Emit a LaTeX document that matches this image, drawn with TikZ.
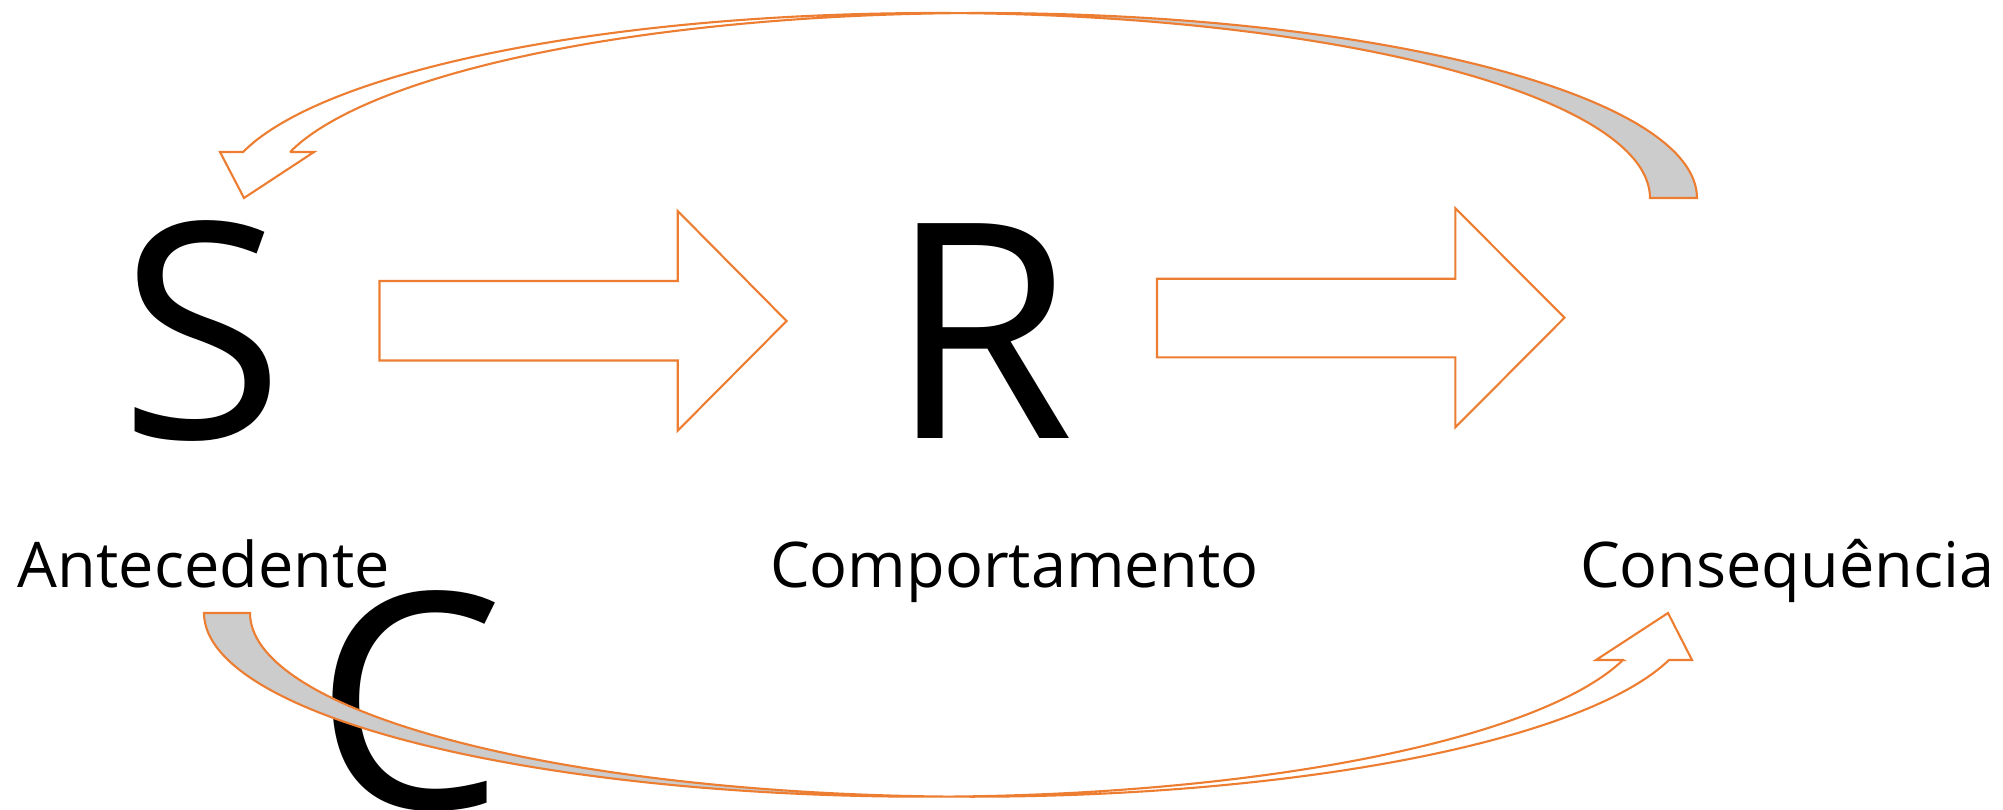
\documentclass[tikz,border=0pt]{standalone}
\usepackage{fontspec}
\setmainfont{Open Sans}
\definecolor{orng}{HTML}{ED7D31}
\definecolor{bandgray}{HTML}{CCCCCC}
\begin{document}
\begin{tikzpicture}[x=0.5pt,y=-0.5pt,
  outl/.style={draw=orng, line width=1.05pt, line join=miter},
  backband/.style={outl, fill=bandgray},
  frontband/.style={outl, fill=white},
  bigletter/.style={inner sep=0pt, outer sep=0pt, anchor=base west, font=\fontsize{150.5pt}{150.5pt}\selectfont},
  lbl/.style={inner sep=0pt, outer sep=0pt, anchor=base west, font=\fontsize{31.5pt}{31.5pt}\selectfont}]
\useasboundingbox (0,0) rectangle (2003,809);

% big letters
\node[bigletter] (S) at (119,438.5) {S};
\node[bigletter] (R) at (888.5,438.5) {R};
\node[bigletter] (C) at (314,808) {C};

% labels
\node[lbl] (lA) at (18,587) {Antecedente};
\node[lbl] (lB) at (770,587) {Comportamento};
\node[lbl] (lC) at (1580,587) {Consequência};

% straight block arrows
\coordinate (a1) at (379.5,281);
\coordinate (a1tip) at (786.6,321);
\draw[frontband] (a1) -- (677.7,281) -- (677.7,211) -- (a1tip) -- (677.7,430.7) -- (677.7,360.5) -- (379.5,360.5) -- cycle;
\coordinate (a2) at (1157,278.7);
\coordinate (a2tip) at (1564.5,317.7);
\draw[frontband] (a2) -- (1455.4,278.7) -- (1455.4,208.3) -- (a2tip) -- (1455.4,427.3) -- (1455.4,357.3) -- (1157,357.3) -- cycle;

% top curved arrow (tail at right, head at left)
\draw[backband] plot[domain=0:91.88, samples=80, variable=\t] ({982.3+714.7*cos(\t)},{198-185*sin(\t)})
  -- plot[domain=88.12:0, samples=80, variable=\t] ({935.3+714.7*cos(\t)},{198-185*sin(\t)}) -- cycle;
\draw[frontband] plot[domain=88.12:165.6, samples=80, variable=\t] ({935.3+714.7*cos(\t)},{198-185*sin(\t)})
  -- (220,152) -- (244,198) -- (314,152) -- (290,152)
  -- plot[domain=165.6:91.88, samples=80, variable=\t] ({982.3+714.7*cos(\t)},{198-185*sin(\t)}) -- cycle;

% bottom curved arrow (tail at left, head at right)
\draw[backband] plot[domain=180:88.17, samples=80, variable=\t] ({925.5+721.5*cos(\t)},{613+183.7*sin(\t)})
  -- plot[domain=91.83:180, samples=80, variable=\t] ({971.5+721.5*cos(\t)},{613+183.7*sin(\t)}) -- cycle;
\draw[frontband] plot[domain=91.83:14.82, samples=80, variable=\t] ({971.5+721.5*cos(\t)},{613+183.7*sin(\t)})
  -- (1692,660) -- (1668,613) -- (1596,660) -- (1623,660)
  -- plot[domain=14.82:88.17, samples=80, variable=\t] ({925.5+721.5*cos(\t)},{613+183.7*sin(\t)}) -- cycle;
\end{tikzpicture}
\end{document}
